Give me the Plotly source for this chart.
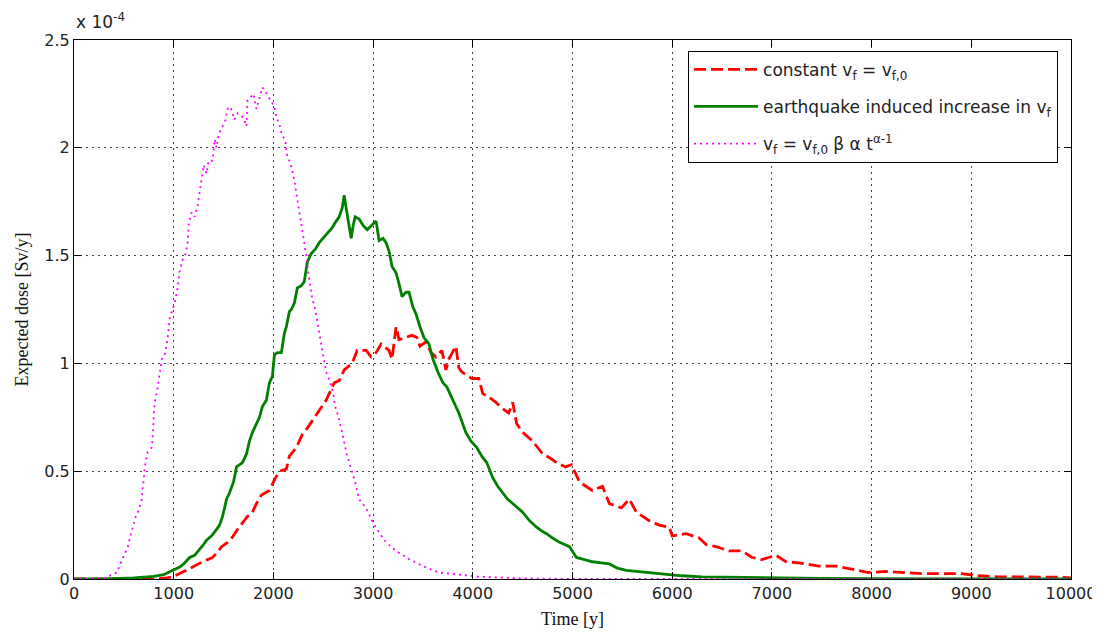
import plotly.graph_objects as go

# ---- data (dose values in units of 1e-4 Sv/y) ----
t_green = [0, 300, 600, 700, 800, 900, 1000, 1060, 1100, 1160, 1210, 1260, 1300, 1330, 1380, 1430, 1460, 1490,
           1530, 1560, 1600, 1630, 1690, 1730, 1760, 1790, 1830, 1860, 1890, 1930, 1960, 1990, 2010, 2040, 2080,
           2110, 2130, 2160, 2180, 2210, 2240, 2280, 2310, 2340, 2380, 2420, 2460, 2500, 2530, 2560, 2590, 2630,
           2660, 2690, 2710, 2730, 2750, 2780, 2800, 2820, 2860, 2900, 2940, 2990, 3030, 3060, 3100, 3130, 3160,
           3190, 3230, 3260, 3290, 3330, 3360, 3400, 3430, 3470, 3510, 3560, 3600, 3650, 3700, 3740, 3800, 3860,
           3930, 3980, 4040, 4090, 4140, 4200, 4250, 4300, 4350, 4400, 4450, 4500, 4570, 4640, 4700, 4740, 4800,
           4870, 4970, 5040, 5120, 5200, 5290, 5370, 5450, 5540, 5640, 5740, 5850, 5970, 6100, 6300, 6600, 7000,
           7500, 8000, 9000, 10000]
dose_green = [0, 0, 0.005, 0.008, 0.012, 0.02, 0.04, 0.055, 0.07, 0.10, 0.11, 0.135, 0.16, 0.18, 0.20, 0.23, 0.25,
              0.29, 0.37, 0.40, 0.45, 0.52, 0.54, 0.58, 0.64, 0.68, 0.72, 0.75, 0.80, 0.83, 0.91, 0.94, 1.04, 1.05,
              1.05, 1.14, 1.17, 1.24, 1.25, 1.28, 1.35, 1.36, 1.38, 1.47, 1.51, 1.53, 1.56, 1.58, 1.60, 1.61, 1.63,
              1.66, 1.68, 1.72, 1.78, 1.72, 1.66, 1.58, 1.64, 1.68, 1.67, 1.64, 1.62, 1.64, 1.66, 1.57, 1.58, 1.56,
              1.52, 1.45, 1.42, 1.37, 1.31, 1.33, 1.33, 1.26, 1.23, 1.17, 1.12, 1.09, 1.02, 0.96, 0.91, 0.89, 0.83,
              0.77, 0.68, 0.64, 0.61, 0.57, 0.54, 0.47, 0.43, 0.40, 0.37, 0.35, 0.33, 0.31, 0.27, 0.24, 0.22, 0.21,
              0.19, 0.17, 0.15, 0.10, 0.09, 0.08, 0.075, 0.07, 0.05, 0.04, 0.035, 0.03, 0.025, 0.02, 0.015, 0.01,
              0.008, 0.005, 0.003, 0.002, 0.001, 0.0]

t_red = [0, 800, 930, 990, 1060, 1120, 1160, 1230, 1290, 1340, 1390, 1440, 1480, 1540, 1590, 1640, 1690, 1740,
         1790, 1830, 1880, 1960, 2010, 2060, 2130, 2160, 2230, 2290, 2340, 2400, 2460, 2530, 2610, 2660, 2710, 2790,
         2840, 2930, 2980, 3030, 3080, 3160, 3190, 3230, 3260, 3330, 3390, 3440, 3470, 3530, 3580, 3630, 3690, 3730,
         3760, 3830, 3860, 3890, 3990, 4060, 4100, 4140, 4230, 4300, 4360, 4400, 4440, 4500, 4600, 4700, 4780, 4840,
         4930, 4990, 5070, 5200, 5300, 5370, 5490, 5570, 5640, 5770, 5870, 5970, 6000, 6140, 6270, 6340, 6440, 6570,
         6700, 6800, 6900, 7040, 7140, 7270, 7470, 7640, 7820, 7970, 8140, 8340, 8500, 8750, 8900, 9080, 9280, 9480,
         9750, 9910, 10000]
dose_red = [0, 0, 0.005, 0.01, 0.025, 0.04, 0.05, 0.065, 0.08, 0.09, 0.10, 0.125, 0.15, 0.17, 0.195, 0.23, 0.26,
            0.29, 0.31, 0.35, 0.39, 0.41, 0.46, 0.50, 0.51, 0.57, 0.61, 0.67, 0.70, 0.74, 0.78, 0.83, 0.91, 0.92,
            0.97, 1.00, 1.06, 1.06, 1.03, 1.05, 1.09, 1.06, 1.02, 1.17, 1.11, 1.12, 1.13, 1.12, 1.08, 1.10, 1.05,
            1.03, 1.06, 0.97, 1.02, 1.08, 0.98, 0.96, 0.93, 0.93, 0.86, 0.85, 0.82, 0.79, 0.77, 0.82, 0.72, 0.68,
            0.64, 0.58, 0.56, 0.54, 0.52, 0.53, 0.45, 0.41, 0.43, 0.35, 0.33, 0.37, 0.31, 0.27, 0.25, 0.24, 0.20,
            0.21, 0.19, 0.16, 0.15, 0.13, 0.13, 0.10, 0.09, 0.11, 0.08, 0.075, 0.06, 0.06, 0.045, 0.03, 0.035, 0.03,
            0.025, 0.025, 0.025, 0.015, 0.01, 0.01, 0.01, 0.008, 0.005]

t_mag = [0, 290, 380, 430, 460, 490, 540, 560, 580, 600, 620, 650, 680, 690, 700, 710, 740, 780, 790, 800, 810,
         840, 860, 880, 910, 940, 960, 990, 1010, 1040, 1060, 1090, 1120, 1140, 1150, 1180, 1210, 1240, 1260, 1280,
         1300, 1330, 1350, 1390, 1410, 1430, 1450, 1490, 1520, 1540, 1570, 1610, 1640, 1700, 1730, 1740, 1800, 1830,
         1850, 1890, 1920, 1960, 2010, 2030, 2060, 2080, 2120, 2140, 2170, 2190, 2210, 2230, 2250, 2260, 2280, 2300,
         2330, 2350, 2370, 2390, 2420, 2440, 2460, 2490, 2530, 2570, 2600, 2620, 2660, 2690, 2740, 2780, 2820, 2860,
         2930, 2990, 3040, 3130, 3230, 3370, 3500, 3660, 3840, 4070, 4500, 5000, 10000]
dose_mag = [0, 0, 0.02, 0.03, 0.065, 0.10, 0.15, 0.19, 0.22, 0.25, 0.29, 0.32, 0.37, 0.43, 0.46, 0.52, 0.59, 0.61,
            0.66, 0.76, 0.82, 0.89, 0.95, 1.02, 1.04, 1.12, 1.21, 1.25, 1.28, 1.35, 1.43, 1.48, 1.51, 1.56, 1.65,
            1.70, 1.68, 1.73, 1.80, 1.85, 1.92, 1.88, 1.94, 1.94, 2.04, 2.00, 2.06, 2.10, 2.13, 2.18, 2.19, 2.13,
            2.16, 2.14, 2.10, 2.22, 2.25, 2.18, 2.21, 2.28, 2.26, 2.23, 2.19, 2.14, 2.11, 2.07, 2.03, 1.96, 1.93,
            1.89, 1.85, 1.79, 1.73, 1.70, 1.66, 1.60, 1.50, 1.42, 1.36, 1.30, 1.25, 1.19, 1.13, 1.06, 0.96, 0.91,
            0.86, 0.80, 0.74, 0.67, 0.57, 0.51, 0.45, 0.37, 0.33, 0.27, 0.23, 0.17, 0.13, 0.09, 0.06, 0.03, 0.02,
            0.01, 0.003, 0.0, 0.0]

x_ticks = [0, 1000, 2000, 3000, 4000, 5000, 6000, 7000, 8000, 9000, 10000]
y_ticks = [0, 0.5, 1, 1.5, 2, 2.5]
y_ticklabels = ["0", "0.5", "1", "1.5", "2", "2.5"]

names = ["constant v<sub>f</sub> = v<sub>f,0</sub>",
         "earthquake induced increase in v<sub>f</sub>",
         "v<sub>f</sub> = v<sub>f,0</sub> β α t<sup>α-1</sup>"]

fig = go.Figure()
fig.add_trace(go.Scatter(x=t_red, y=dose_red, mode="lines", name=names[0], legendgroup="a",
                         line=dict(color="#ff0000", width=2.8, dash="12px,5px")))
fig.add_trace(go.Scatter(x=t_green, y=dose_green, mode="lines", name=names[1], legendgroup="b",
                         line=dict(color="#008000", width=2.8)))
fig.add_trace(go.Scatter(x=t_mag, y=dose_mag, mode="lines", name=names[2], legendgroup="c",
                         line=dict(color="#ff00ff", width=1.8, dash="2px,4px")))

axis_common = dict(showline=True, linecolor="black", linewidth=1, mirror="ticks",
                   ticks="inside", ticklen=7, tickcolor="black", automargin=False,
                   showgrid=True, gridcolor="#444444", gridwidth=1, griddash="2px,4px",
                   zeroline=False, tickfont=dict(family="DejaVu Sans", size=16, color="#222222"))

fig.update_xaxes(range=[0, 10000], tickvals=x_ticks, tickformat="d",
                 title=dict(text="Time [y]", font=dict(family="Liberation Serif", size=18, color="#111111"),
                            standoff=10),
                 **axis_common)
fig.update_yaxes(range=[0, 2.5], tickvals=y_ticks, ticktext=y_ticklabels,
                 title=dict(text="Expected dose [Sv/y]", font=dict(family="Liberation Serif", size=18, color="#111111"),
                            standoff=11),
                 **axis_common)

fig.add_annotation(x=0, y=1, xref="paper", yref="paper", xanchor="left", yanchor="bottom",
                   text="x 10<sup>-4</sup>", showarrow=False, xshift=0, yshift=6,
                   font=dict(family="DejaVu Sans", size=17, color="#222222"))

# page body has an 8px margin, so the figure is sized to fit the 1100x637 window
fig.update_layout(
    width=1092, height=629,
    margin=dict(l=66, r=29, t=32, b=58),
    paper_bgcolor="white", plot_bgcolor="white",
    showlegend=True,
    legend=dict(x=0.987, y=0.98, xanchor="right", yanchor="top",
                bgcolor="white", bordercolor="black", borderwidth=1,
                font=dict(family="DejaVu Sans", size=17, color="#222222"),
                tracegroupgap=12, itemwidth=64, traceorder="grouped"),
)

fig.write_html("out.html")
